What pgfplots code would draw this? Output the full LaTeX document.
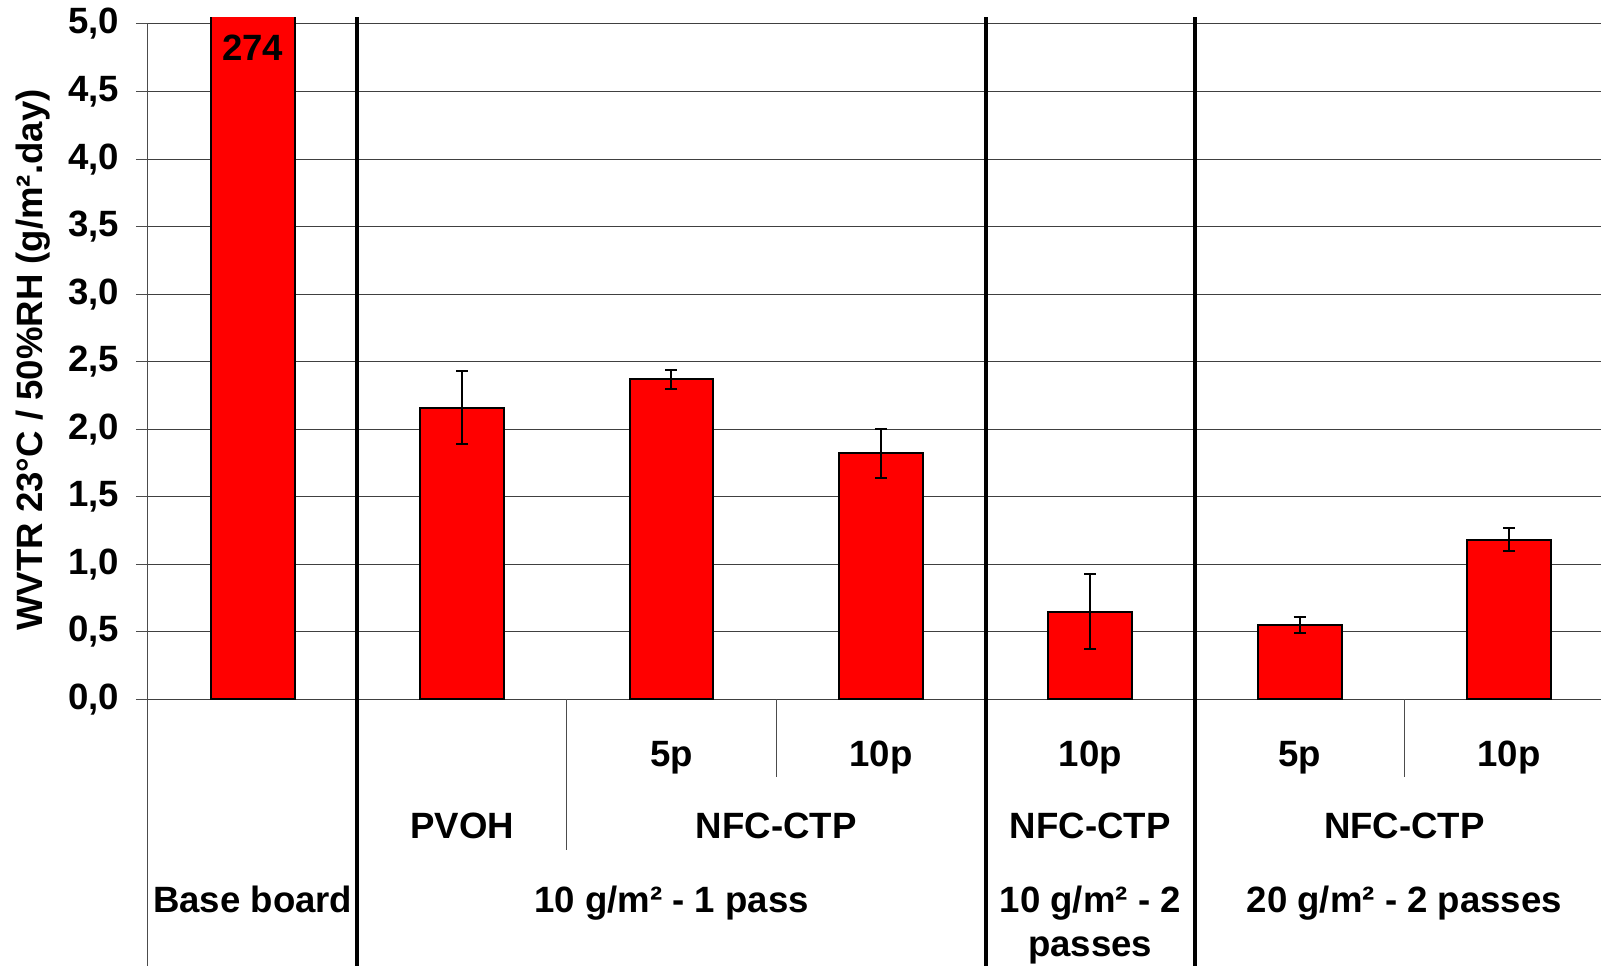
\documentclass[border=0pt]{standalone}
\usepackage{pgfplots}
\pgfplotsset{compat=1.18}
\usepackage{fontspec}
\setmainfont{Liberation Sans}
\begin{document}
\begin{tikzpicture}[font=\fontsize{18.3}{22}\selectfont\bfseries]
\useasboundingbox (0,0) rectangle (800.5pt,483pt);
\begin{axis}[
  at={(74pt,133.35pt)}, anchor=south west,
  scale only axis, width=726.5pt, height=341.03pt,
  xmin=-0.5, xmax=6.439, ymin=0, ymax=5.05,
  axis x line*=bottom, axis y line*=left,
  axis line style={draw=none},
  xtick=\empty,
  ytick={0,0.5,1,1.5,2,2.5,3,3.5,4,4.5,5},
  tick align=outside, major tick length=6pt,
  tick style={black!70, line width=0.5pt},
  ymajorgrids, grid style={black!75, line width=0.5pt},
  yticklabel style={xshift=-5pt, /pgf/number format/.cd, fixed, fixed zerofill, precision=1, use comma, assume math mode=true},
  ticklabel style={font=\fontsize{18.3}{22}\selectfont\bfseries},
  clip mode=individual,
  ybar, bar width=41.88pt, bar shift=0pt,
]
% Base board: 274 (off scale, drawn clipped at the top)
\addplot[fill=red, draw=black, line width=1pt, y filter/.expression={min(y,5.3)}] coordinates {(0,274)};
\addplot[fill=red, draw=black, line width=1pt,
  error bars/.cd, y dir=both, y explicit,
  error bar style={black, line width=1pt},
  error mark=-,
  error mark options={black, rotate=90, mark size=3pt, line width=1pt}]
  coordinates {
  (1,2.16) +- (0,0.27)
  (2,2.37) +- (0,0.07)
  (3,1.82) +- (0,0.18)
  (4,0.65) +- (0,0.28)
  (5,0.55) +- (0,0.06)
  (6,1.18) +- (0,0.085)
  };
% separators
\draw[black, line width=2pt] (axis cs:0.5,5.05) -- (axis cs:0.5,-1.975);
\draw[black, line width=2pt] (axis cs:3.5,5.05) -- (axis cs:3.5,-1.975);
\draw[black, line width=2pt] (axis cs:4.5,5.05) -- (axis cs:4.5,-1.975);
\draw[black!70, line width=0.5pt] (axis cs:-0.5,5) -- (axis cs:-0.5,-1.975);
\draw[black!70, line width=0.5pt] (axis cs:1.5,0) -- (axis cs:1.5,-1.116);
\draw[black!70, line width=0.5pt] (axis cs:2.5,0) -- (axis cs:2.5,-0.573);
\draw[black!70, line width=0.5pt] (axis cs:5.5,0) -- (axis cs:5.5,-0.573);
% labels
\node[anchor=base] at (axis cs:0,4.728) {274};
\node[anchor=base] at (axis cs:2,-0.499) {5p};
\node[anchor=base] at (axis cs:3,-0.499) {10p};
\node[anchor=base] at (axis cs:4,-0.499) {10p};
\node[anchor=base] at (axis cs:5,-0.499) {5p};
\node[anchor=base] at (axis cs:6,-0.499) {10p};
\node[anchor=base] at (axis cs:1,-1.029) {PVOH};
\node[anchor=base] at (axis cs:2.5,-1.029) {NFC-CTP};
\node[anchor=base] at (axis cs:4,-1.029) {NFC-CTP};
\node[anchor=base] at (axis cs:5.5,-1.029) {NFC-CTP};
\node[anchor=base] at (axis cs:0,-1.58) {Base board};
\node[anchor=base] at (axis cs:2,-1.58) {10 g/m² - 1 pass};
\node[anchor=base] at (axis cs:4,-1.58) {10 g/m² - 2};
\node[anchor=base] at (axis cs:4,-1.906) {passes};
\node[anchor=base] at (axis cs:5.5,-1.58) {20 g/m² - 2 passes};
\node[rotate=90, anchor=base] at ([xshift=-52.5pt]axis cs:-0.5,2.512) {WVTR 23°C / 50\%RH (g/m².day)};
\end{axis}
\end{tikzpicture}
\end{document}
